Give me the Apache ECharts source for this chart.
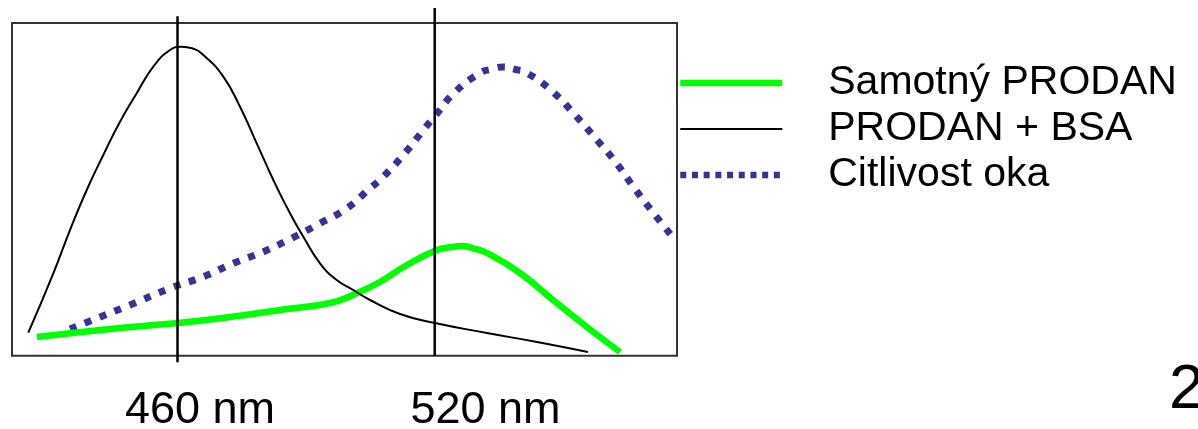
<!DOCTYPE html>
<html>
<head>
<meta charset="utf-8">
<script src="https://cdn.jsdelivr.net/npm/echarts@6/dist/echarts.min.js"></script>
<style>
html,body{margin:0;padding:0;background:#fff;}
#c{width:1198px;height:429px;}
</style>
</head>
<body>
<div id="c"></div>
<script>
// Wavelength (nm) / relative intensity (0-100)
const seriesNames = ['Samotný PRODAN', 'PRODAN + BSA', 'Citlivost oka'];

const prodanX = [427.2, 446.6, 460.1, 472.2, 485.5, 495.6, 500.9, 507.2, 513.5, 520.5, 523.57, 526.4, 529.17, 532.2, 539.9, 547.6, 555.5, 563.2];
const prodanY = [5.62, 8.33, 9.83, 11.63, 14.04, 15.84, 18.24, 22.15, 27.26, 31.77, 32.58, 32.97, 32.22, 30.87, 24.86, 16.74, 8.63, 1.11];

const bsaX = [425.19, 431.03, 434.92, 438.82, 442.69, 446.59, 450.48, 454.35, 458.25, 460.98, 463.38, 466.02, 470.68, 474.58, 478.48, 482.35, 486.24, 489.35, 493.24, 497.14, 501.01, 504.91, 511.90, 520.07, 532.2, 543.87, 555.76];
const bsaY = [6.91, 24.77, 37.78, 49.80, 60.32, 70.33, 78.87, 86.86, 91.88, 92.88, 92.40, 90.38, 83.86, 74.84, 63.84, 52.81, 42.80, 35.77, 27.77, 22.75, 19.75, 16.74, 12.53, 9.83, 6.82, 4.12, 1.11];

const okoX = [434.92, 448.92, 458.25, 466.02, 473.02, 480.02, 486.64, 493.24, 499.47, 504.91, 507.94, 513.07, 517.74, 520.07, 524.74, 530.57, 533.13, 535.93, 538.73, 541.53, 547.60, 552.73, 557.86, 562.53, 566.73, 571.39, 576.06];
const okoY = [8.03, 15.24, 20.26, 23.75, 27.77, 31.26, 35.29, 39.80, 44.30, 50.32, 53.71, 60.93, 68.44, 72.05, 79.26, 84.97, 86.08, 86.77, 86.08, 84.97, 79.26, 72.35, 64.83, 57.62, 50.10, 42.29, 34.78];

// Reference wavelength markers
const markerX = [460, 520];
const markerYFrom = [-2, 0];
const markerYTo = [102, 104.5];
const markerLabels = ['460 nm', '520 nm'];

const zip = (xs, ys) => xs.map((x, i) => [x, ys[i]]);
const FONT = 'Liberation Sans, Arial, sans-serif';
const colors = ['#00FF00', '#000000', '#333399'];

const chart = echarts.init(document.getElementById('c'), null, {renderer: 'canvas'});

const markerSeries = markerX.map((x, i) => ({
  type: 'line',
  name: 'marker' + i,
  data: [[x, markerYFrom[i]], [x, markerYTo[i]]],
  symbol: 'none',
  clip: false,
  z: 5,
  silent: true,
  itemStyle: {color: '#000'},
  lineStyle: {color: '#000', width: 2.5}
}));

chart.setOption({
  animation: false,
  backgroundColor: '#fff',
  color: colors,
  grid: {
    left: 12, right: 521, top: 23, bottom: 73.3,
    show: true, borderColor: '#333', borderWidth: 2, backgroundColor: 'transparent'
  },
  xAxis: {type: 'value', min: 421.39, max: 576.52, show: false},
  yAxis: {type: 'value', min: 0, max: 100, show: false},
  legend: {
    orient: 'vertical',
    left: 677, top: 60, padding: 0,
    itemWidth: 102, itemHeight: 20, itemGap: 0,
    selectedMode: false,
    itemStyle: {opacity: 0},
    textStyle: {fontFamily: FONT, fontSize: 41, color: '#000', lineHeight: 46, padding: [0, 0, 0, 41]},
    data: [
      {name: seriesNames[0], itemStyle: {opacity: 0}, lineStyle: {color: colors[0], width: 6.5, type: 'solid'}},
      {name: seriesNames[1], itemStyle: {opacity: 0}, lineStyle: {color: colors[1], width: 2, type: 'solid'}},
      {name: seriesNames[2], itemStyle: {opacity: 0}, lineStyle: {color: colors[2], width: 6.5, type: [6, 5.7]}}
    ]
  },
  graphic: [
    {type: 'text', x: 200, y: 411, style: {text: markerLabels[0], fontFamily: FONT, fontSize: 45, fill: '#000', align: 'center', verticalAlign: 'middle'}},
    {type: 'text', x: 485.5, y: 411, style: {text: markerLabels[1], fontFamily: FONT, fontSize: 45, fill: '#000', align: 'center', verticalAlign: 'middle'}},
    {type: 'text', x: 1169, y: 391, style: {text: '2', fontFamily: FONT, fontSize: 63, fill: '#000', align: 'left', verticalAlign: 'middle'}}
  ],
  series: [
    {
      type: 'line', name: seriesNames[0], data: zip(prodanX, prodanY),
      symbol: 'none', smooth: 0.5, z: 3,
      itemStyle: {color: colors[0]},
      lineStyle: {color: colors[0], width: 6.5, cap: 'butt'}
    },
    {
      type: 'line', name: seriesNames[1], data: zip(bsaX, bsaY),
      symbol: 'none', smooth: 0.5, z: 4,
      itemStyle: {color: colors[1]},
      lineStyle: {color: colors[1], width: 2}
    },
    {
      type: 'line', name: seriesNames[2], data: zip(okoX, okoY),
      symbol: 'none', smooth: 0.5, z: 2,
      itemStyle: {color: colors[2]},
      lineStyle: {color: colors[2], width: 7, type: [7, 9], cap: 'butt'}
    }
  ].concat(markerSeries)
});
</script>
</body>
</html>
